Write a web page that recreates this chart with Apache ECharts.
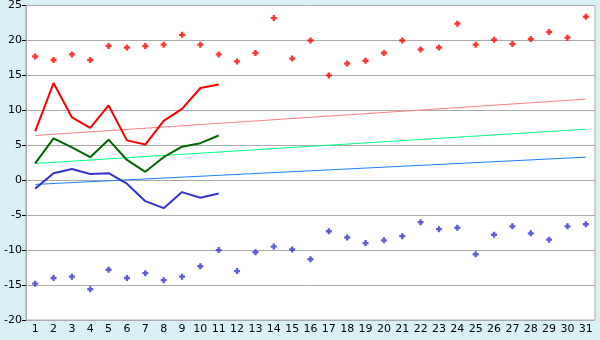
<!DOCTYPE html>
<html><head><meta charset="utf-8">
<script src="https://cdn.jsdelivr.net/npm/echarts@6/dist/echarts.min.js"></script>
<style>html,body{margin:0;padding:0;background:#d9f0f7;}#c{width:600px;height:340px;}</style>
</head><body><div id="c"></div>
<script>
var days = ['1','2','3','4','5','6','7','8','9','10','11','12','13','14','15','16','17','18','19','20','21','22','23','24','25','26','27','28','29','30','31'];
var maxPoints = [17.7,17.2,18.0,17.2,19.2,19.0,19.2,19.4,20.8,19.4,18.0,17.0,18.2,23.2,17.4,20.0,15.0,16.7,17.1,18.2,20.0,18.7,19.0,22.4,19.4,20.1,19.5,20.2,21.2,20.4,23.4];
var minPoints = [-14.8,-14.0,-13.8,-15.6,-12.8,-14.0,-13.3,-14.3,-13.8,-12.3,-10.0,-13.0,-10.3,-9.5,-9.9,-11.3,-7.3,-8.2,-9.0,-8.6,-8.0,-6.0,-7.0,-6.8,-10.6,-7.8,-6.6,-7.6,-8.5,-6.6,-6.3];
var maxLine = [7.0,13.9,9.0,7.5,10.7,5.7,5.1,8.5,10.2,13.2,13.7];
var meanLine = [2.4,6.0,4.7,3.3,5.8,2.9,1.2,3.3,4.8,5.3,6.4];
var minLine = [-1.2,1.0,1.6,0.9,1.0,-0.5,-3.0,-4.0,-1.7,-2.5,-1.9];
var trendMax = [6.4, 11.6];
var trendMean = [2.4, 7.3];
var trendMin = [-0.6, 3.3];
var yTicks = {min:-20, max:25, interval:5};

var plus = 'path://M1.8,0H4.2V1.8H6V4.2H4.2V6H1.8V4.2H0V1.8H1.8Z';
function trend(v){ return [[0, v[0]], [days.length-1, v[1]]]; }

var chart = echarts.init(document.getElementById('c'));
chart.setOption({
  animation:false,
  backgroundColor:'#d9f0f7',
  grid:{left:26,right:5,top:5,bottom:20,show:true,backgroundColor:'#ffffff',borderColor:'#aaaaaa',borderWidth:1},
  xAxis:{type:'category',data:days,boundaryGap:true,
    axisLine:{lineStyle:{color:'#aaaaaa'}},
    axisTick:{alignWithLabel:true,length:5,lineStyle:{color:'#000'}},
    axisLabel:{color:'#000',fontFamily:'DejaVu Sans',fontSize:11,margin:4,interval:0},
    splitLine:{show:false}},
  yAxis:{type:'value',min:yTicks.min,max:yTicks.max,interval:yTicks.interval,
    axisLine:{show:true,lineStyle:{color:'#aaaaaa'}},
    axisTick:{show:true,length:4,lineStyle:{color:'#000'}},
    axisLabel:{color:'#000',fontFamily:'DejaVu Sans',fontSize:11,margin:4},
    splitLine:{lineStyle:{color:'#aaaaaa',width:1}}},
  series:[
    {type:'line',data:trend(trendMax),showSymbol:false,lineStyle:{color:'#ff8080',width:1},z:1},
    {type:'line',data:trend(trendMean),showSymbol:false,lineStyle:{color:'#00ff80',width:1},z:1},
    {type:'line',data:trend(trendMin),showSymbol:false,lineStyle:{color:'#1a80ff',width:1},z:1},
    {type:'line',data:maxLine,showSymbol:false,lineStyle:{color:'#ff0000',width:2},z:2},
    {type:'line',data:meanLine,showSymbol:false,lineStyle:{color:'#006600',width:2},z:2},
    {type:'line',data:minLine,showSymbol:false,lineStyle:{color:'#3333cc',width:2},z:2},
    {type:'scatter',data:maxPoints,symbol:plus,symbolSize:6,itemStyle:{color:'#ff0000'},z:3},
    {type:'scatter',data:minPoints,symbol:plus,symbolSize:6,itemStyle:{color:'#3333cc'},z:3}
  ]
});
</script></body></html>
